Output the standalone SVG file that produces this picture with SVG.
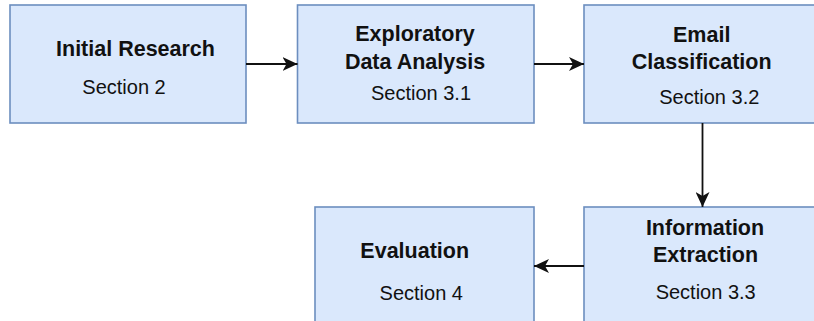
<svg xmlns="http://www.w3.org/2000/svg" width="814" height="321" viewBox="0 0 814 321">
  <style>
    .box { fill: #dae8fc; stroke: #6c8ebf; stroke-width: 1.6; }
    .title { font-family: "Liberation Sans", Arial, sans-serif; font-size: 21.5px; font-weight: bold; fill: #111; text-anchor: middle; }
    .sub { font-family: "Liberation Sans", Arial, sans-serif; font-size: 20px; fill: #111; text-anchor: middle; }
    .edge { fill: none; stroke: #111; stroke-width: 1.8; }
  </style>
  <defs>
    <marker id="arrow" viewBox="0 0 15 14" refX="15" refY="7" markerWidth="15" markerHeight="14" markerUnits="userSpaceOnUse" orient="auto">
      <path d="M0,0 L15,7 L0,14 L4,7 z" fill="#111"/>
    </marker>
  </defs>

  <rect width="814" height="321" fill="#ffffff"/>

  <g id="initial-research">
    <rect class="box" x="10" y="5" width="236" height="118"/>
    <text class="title" x="135.5" y="55.5">Initial Research</text>
    <text class="sub" x="124" y="94">Section 2</text>
  </g>

  <g id="exploratory-data-analysis">
    <rect class="box" x="297.5" y="5" width="236.5" height="118"/>
    <text class="title" x="415" y="40.5">Exploratory</text>
    <text class="title" x="415" y="68.5">Data Analysis</text>
    <text class="sub" x="421" y="100">Section 3.1</text>
  </g>

  <g id="email-classification">
    <rect class="box" x="584" y="5" width="237" height="118"/>
    <text class="title" x="701.7" y="41.5">Email</text>
    <text class="title" x="701.7" y="68.5">Classification</text>
    <text class="sub" x="709.3" y="104">Section 3.2</text>
  </g>

  <g id="evaluation">
    <rect class="box" x="315" y="207" width="219" height="130"/>
    <text class="title" x="414.7" y="257.5">Evaluation</text>
    <text class="sub" x="421.3" y="300">Section 4</text>
  </g>

  <g id="information-extraction">
    <rect class="box" x="584" y="207" width="237" height="130"/>
    <text class="title" x="705" y="235">Information</text>
    <text class="title" x="705.5" y="261.7">Extraction</text>
    <text class="sub" x="705.7" y="299.3">Section 3.3</text>
  </g>

  <g id="connectors">
    <path class="edge" d="M246,64 L297.5,64" marker-end="url(#arrow)"/>
    <path class="edge" d="M534,64 L584,64" marker-end="url(#arrow)"/>
    <path class="edge" d="M702.5,123 L702.5,207" marker-end="url(#arrow)"/>
    <path class="edge" d="M584,266 L534,266" marker-end="url(#arrow)"/>
  </g>
</svg>
